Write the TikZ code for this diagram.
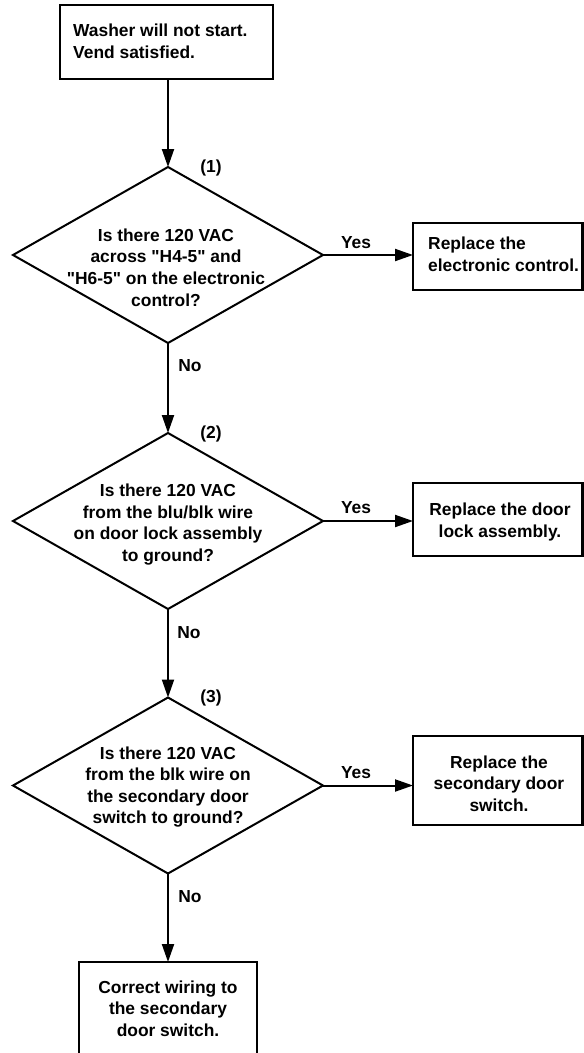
\documentclass[tikz,border=0pt]{standalone}
\usepackage{fontspec}
\setmainfont{Liberation Sans}[Ligatures=TeXOff]
\usetikzlibrary{shapes.geometric,arrows.meta}
\begin{document}
\begin{tikzpicture}[x=1pt,y=-1pt,
  box/.style={draw,line width=2.4pt,rectangle,inner sep=0pt,outer sep=0pt},
  decision/.style={draw,line width=2pt,diamond,inner sep=0pt,outer sep=0pt,
    minimum width=310pt,minimum height=176pt},
  txt/.style={font=\fontsize{17.4}{21.6}\selectfont\bfseries,inner sep=0pt,align=center},
  flow/.style={line width=2pt,-{Triangle[length=18pt,width=12pt]}},
]
\clip (0,0) rectangle (584,1053);
\fill[white] (0,0) rectangle (584,1053);

% start box
\node[box,minimum width=213pt,minimum height=74pt] (start) at (166.5,42) {};
\node[txt,align=left,anchor=west] (starttxt) at (73,41.5) {Washer will not start.\\Vend satisfied.};

% decision 1
\node[decision] (d1) at (168,255) {};
\node[txt] (d1txt) at (166,267.5) {Is there 120 VAC\\across "H4-5" and\\"H6-5" on the electronic\\control?};
\node[txt] (n1) at (211,168) {(1)};
\node[box,minimum width=169.5pt,minimum height=67pt] (r1) at (497.75,256.5) {};
\node[txt,align=left,anchor=west] (r1txt) at (428,254) {Replace the\\electronic control.};

% decision 2
\node[decision] (d2) at (168,521) {};
\node[txt] (d2txt) at (168,524.5) {Is there 120 VAC\\from the blu/blk wire\\on door lock assembly\\to ground?};
\node[txt] (n2) at (211,434) {(2)};
\node[box,minimum width=169.5pt,minimum height=73pt] (r2) at (497.75,519.5) {};
\node[txt] (r2txt) at (500,522) {Replace the door\\lock assembly.};

% decision 3
\node[decision] (d3) at (168,785.5) {};
\node[txt] (d3txt) at (168,787) {Is there 120 VAC\\from the blk wire on\\the secondary door\\switch to ground?};
\node[txt] (n3) at (211,698) {(3)};
\node[box,minimum width=169.5pt,minimum height=89pt] (r3) at (497.75,780.5) {};
\node[txt] (r3txt) at (499,783.5) {Replace the\\secondary door\\switch.};

% final box, running past the lower edge
\node[box,minimum width=178pt,minimum height=108pt] (fix) at (168,1016) {};
\node[txt] (fixtxt) at (168,1008.5) {Correct wiring to\\the secondary\\door switch.};

% connectors
\draw[flow] (d1.north |- start.south) -- (d1.north);
\draw[flow] (d1.south) -- (d2.north);
\draw[flow] (d2.south) -- (d3.north);
\draw[flow] (d3.south) -- (fix.north);
\draw[flow] (d1.east) -- (d1.east -| r1.west);
\draw[flow] (d2.east) -- (d2.east -| r2.west);
\draw[flow] (d3.east) -- (d3.east -| r3.west);

% branch labels
\node[txt] (y1) at (356,243) {Yes};
\node[txt] (y2) at (356,508) {Yes};
\node[txt] (y3) at (356,773) {Yes};
\node[txt] (no1) at (190,366) {No};
\node[txt] (no2) at (189,633) {No};
\node[txt] (no3) at (190,897) {No};
\end{tikzpicture}
\end{document}
